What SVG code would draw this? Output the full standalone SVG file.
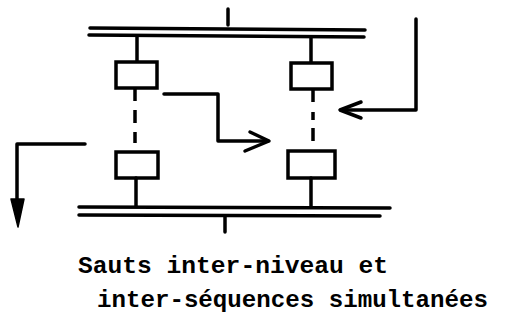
<svg xmlns="http://www.w3.org/2000/svg" width="506" height="335" viewBox="0 0 506 335">
<defs>
<style>
.ln{stroke:#000;stroke-width:3.5;fill:none;stroke-linecap:round;stroke-linejoin:round}
.box{stroke:#000;stroke-width:3.5;fill:#fff}
.dash{stroke:#000;stroke-width:3.5;fill:none}
.txt{font-family:"Liberation Mono","DejaVu Sans Mono",monospace;font-size:24px;font-weight:bold;fill:#000}
</style>
</defs>
<rect width="506" height="335" fill="#fff"/>
<g id="top-bar">
<line class="ln" x1="90" y1="28" x2="365" y2="30"/>
<line class="ln" x1="89" y1="35" x2="364" y2="37"/>
<line class="ln" x1="228" y1="9" x2="228" y2="25"/>
</g>
<g id="bottom-bar">
<line class="ln" x1="79" y1="207" x2="390" y2="208"/>
<line class="ln" x1="79" y1="215" x2="380" y2="216"/>
<line class="ln" x1="225" y1="216" x2="225" y2="232"/>
</g>
<g id="step-left-top">
<line class="ln" x1="137" y1="37" x2="137" y2="62"/>
<rect class="box" x="116" y="62" width="41" height="26"/>
</g>
<g id="step-left-bottom">
<rect class="box" x="116" y="152" width="42" height="26"/>
<line class="ln" x1="136" y1="178" x2="136" y2="206"/>
</g>
<g id="step-right-top">
<line class="ln" x1="311" y1="38" x2="311" y2="63"/>
<rect class="box" x="291" y="63" width="41" height="26"/>
</g>
<g id="step-right-bottom">
<rect class="box" x="288" y="151" width="47" height="27"/>
<line class="ln" x1="311" y1="178" x2="311" y2="207"/>
</g>
<g id="connectors">
<path class="dash" d="M135 89V101M135 110V123M135 132V143"/>
<path class="dash" d="M313 90V102M313 112V120M313 128V141"/>
<path class="ln" d="M164 94H218V141H268"/>
<path class="ln" d="M250 132L269 141L245 151"/>
<path class="ln" d="M416 19V110H341"/>
<path class="ln" d="M361 102L340 110L361 118"/>
<path class="ln" d="M85 144H17V205"/>
<path d="M11 199L24 199L18 227Z" fill="#000" stroke="#000" stroke-width="1.5" stroke-linejoin="round"/>
</g>
<g id="caption">
<text class="txt" x="78" y="273" textLength="310" lengthAdjust="spacingAndGlyphs">Sauts inter-niveau et</text>
<text class="txt" x="97" y="307" textLength="391" lengthAdjust="spacingAndGlyphs">inter-séquences simultanées</text>
</g>
</svg>
